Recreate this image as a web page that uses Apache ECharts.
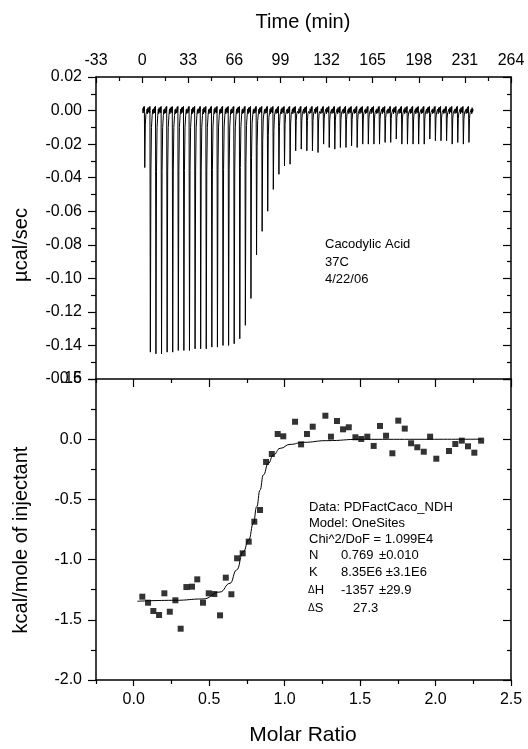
<!DOCTYPE html>
<html>
<head>
<meta charset="utf-8">
<script src="https://cdn.jsdelivr.net/npm/echarts@6/dist/echarts.min.js"></script>
<style>
  html, body { margin: 0; padding: 0; background: #fff; }
  #chart { width: 528px; height: 749px; }
</style>
</head>
<body>
<div id="chart"></div>
<script>
// ---- Raw thermogram (upper panel) ----
const injectionTimes = [
  1.6, 5.6, 9.6, 13.6, 17.6, 21.6, 25.6, 29.6, 33.6, 37.6,
  41.6, 45.6, 49.6, 53.6, 57.6, 61.6, 65.6, 69.6, 73.6, 77.6,
  81.6, 85.6, 89.6, 93.6, 97.6, 101.6, 105.6, 109.6, 113.6, 117.6,
  121.6, 125.6, 129.6, 133.6, 137.6, 141.6, 145.6, 149.6, 153.6, 157.6,
  161.6, 165.6, 169.6, 173.6, 177.6, 181.6, 185.6, 189.6, 193.6, 197.6,
  201.6, 205.6, 209.6, 213.6, 217.6, 221.6, 225.6, 229.6, 233.6
];
const peakHeights = [
  -0.034, -0.144, -0.145, -0.145, -0.144, -0.144, -0.143, -0.143, -0.143, -0.142,
  -0.142, -0.142, -0.141, -0.141, -0.140, -0.140, -0.139, -0.136, -0.128, -0.112,
  -0.086, -0.072, -0.060, -0.047, -0.038, -0.033, -0.032, -0.024, -0.023, -0.024,
  -0.024, -0.025, -0.020, -0.022, -0.023, -0.022, -0.022, -0.021, -0.022, -0.020,
  -0.020, -0.020, -0.020, -0.019, -0.019, -0.017, -0.020, -0.020, -0.020, -0.020,
  -0.020, -0.017, -0.018, -0.018, -0.018, -0.020, -0.019, -0.020, -0.019
];
const traceStart = 0.4;
const traceEnd = 237;
// small baseline wobble of the power signal, repeated between injections
const baselineNoise = [0.0013, -0.0015, 0.0022, -0.0005, 0.0009, -0.0019, 0.0017,
                       -0.0010, 0.0004, 0.0021, -0.0014, 0.0006, -0.0018, 0.0011];

// ---- Integrated heats (lower panel) ----
const molarRatio = [
  0.057, 0.095, 0.130, 0.168, 0.203, 0.239, 0.276, 0.311, 0.349, 0.386,
  0.421, 0.459, 0.497, 0.534, 0.572, 0.610, 0.647, 0.685, 0.722, 0.762,
  0.799, 0.837, 0.877, 0.915, 0.954, 0.991, 1.069, 1.109, 1.148, 1.186,
  1.270, 1.307, 1.347, 1.387, 1.425, 1.469, 1.508, 1.548, 1.590, 1.632,
  1.672, 1.714, 1.753, 1.796, 1.838, 1.879, 1.922, 1.964, 2.005, 2.089,
  2.131, 2.174, 2.215, 2.257, 2.302
];
const heatPerMole = [
  -1.308, -1.358, -1.427, -1.460, -1.280, -1.433, -1.338, -1.574, -1.228, -1.225,
  -1.164, -1.358, -1.280, -1.286, -1.463, -1.150, -1.288, -0.989, -0.948, -0.851,
  -0.685, -0.588, -0.189, -0.123, 0.043, 0.024, 0.145, -0.043, 0.043, 0.104,
  0.195, 0.021, 0.151, 0.082, 0.099, 0.016, 0.002, 0.021, -0.056, 0.110,
  0.029, -0.117, 0.154, 0.088, -0.034, -0.067, -0.104, 0.021, -0.162, -0.098,
  -0.040, -0.012, -0.059, -0.112, -0.012
];
// one-site fit curve
const fitRatio = [0.024, 0.276, 0.459, 0.572, 0.638, 0.682, 0.726, 0.762, 0.793, 0.815,
                  0.837, 0.859, 0.892, 0.925, 0.970, 1.036, 1.124, 1.279, 1.500, 2.302];
const fitHeat  = [-1.346, -1.338, -1.327, -1.269, -1.197, -1.086, -0.934, -0.837, -0.699, -0.561,
                  -0.422, -0.297, -0.200, -0.131, -0.076, -0.043, -0.026, -0.012, -0.001, 0.000];

// ---- Axis ranges ----
const timeAxis = { min: -33, max: 264, step: 33 };
const powerAxis = { min: -0.16, max: 0.02, step: 0.02 };
const ratioAxis = { min: -0.25, max: 2.5 };
const ratioMajor = [0, 0.5, 1.0, 1.5, 2.0, 2.5];
const ratioMinor = [-0.25, 0.25, 0.75, 1.25, 1.75, 2.25];
const heatAxis = { min: -2.0, max: 0.5, step: 0.5 };

// build the thermogram polyline from the injection list
const trace = [];
let k = 0;
const nextNoise = () => baselineNoise[(k++) % baselineNoise.length];
for (let s = traceStart; s < injectionTimes[0] - 0.1; s += 0.3) trace.push([s, nextNoise()]);
injectionTimes.forEach((t, i) => {
  const d = peakHeights[i];
  const next = i + 1 < injectionTimes.length ? injectionTimes[i + 1] : traceEnd;
  trace.push([t, 0.0025]);
  trace.push([t + 0.3, d]);
  trace.push([t + 0.7, d * 0.25]);
  trace.push([t + 1.1, d * 0.07]);
  trace.push([t + 1.6, d * 0.02]);
  for (let s = t + 2.0; s < next - 0.1; s += 0.3) trace.push([s, nextNoise()]);
});
trace.push([traceEnd, 0.0008]);

const heatPoints = molarRatio.map((x, i) => [x, heatPerMole[i]]);
const fitPoints = fitRatio.map((x, i) => [x, fitHeat[i]]);

const FONT = '"Liberation Sans", Arial, sans-serif';
const AX = { onZero: false, lineStyle: { color: '#000', width: 1.5 } };
const NOLINE = { show: false, onZero: false };
const TICK = (len, inside) => ({ show: true, inside: inside, length: len, lineStyle: { color: '#000', width: 1.2 } });
const MINOR = (len) => ({ show: true, splitNumber: 2, length: len, lineStyle: { color: '#000', width: 1.2 } });
const fmt = (d) => (v) => (Math.abs(v) < 1e-9 ? 0 : v).toFixed(d);
const labelStyle = { color: '#000', fontSize: 16, fontFamily: FONT };

const chart = echarts.init(document.getElementById('chart'), null, { renderer: 'canvas' });

const gridTop = { left: 96, top: 77, width: 415, height: 302 };
const gridBot = { left: 96, top: 379, width: 415, height: 301 };

const ratioBase = { type: 'value', gridIndex: 1, min: ratioAxis.min, max: ratioAxis.max, splitLine: { show: false } };
const powerBase = { type: 'value', gridIndex: 0, min: powerAxis.min, max: powerAxis.max, interval: powerAxis.step, splitLine: { show: false } };
const heatBase = { type: 'value', gridIndex: 1, min: heatAxis.min, max: heatAxis.max, interval: heatAxis.step, splitLine: { show: false } };

chart.setOption({
  animation: false,
  backgroundColor: '#fff',
  grid: [gridTop, gridBot],
  xAxis: [
    { type: 'value', gridIndex: 0, position: 'top', min: timeAxis.min, max: timeAxis.max, interval: timeAxis.step,
      axisLine: AX, axisTick: TICK(6, true), minorTick: MINOR(4),
      axisLabel: Object.assign({ margin: 8, showMinLabel: true, showMaxLabel: true }, labelStyle),
      splitLine: { show: false } },
    Object.assign({}, ratioBase, { position: 'bottom', axisLine: AX,
      axisTick: Object.assign(TICK(6, false), { customValues: ratioMajor }),
      axisLabel: Object.assign({ margin: 12, customValues: ratioMajor, formatter: fmt(1) }, labelStyle) }),
    Object.assign({}, ratioBase, { position: 'bottom', axisLine: NOLINE,
      axisTick: Object.assign(TICK(4, false), { customValues: ratioMinor }), axisLabel: { show: false } }),
    Object.assign({}, ratioBase, { position: 'top', axisLine: AX,
      axisTick: Object.assign(TICK(8, true), { customValues: ratioMajor }), axisLabel: { show: false } }),
    Object.assign({}, ratioBase, { position: 'top', axisLine: NOLINE,
      axisTick: Object.assign(TICK(4, true), { customValues: ratioMinor }), axisLabel: { show: false } })
  ],
  yAxis: [
    Object.assign({}, powerBase, { position: 'left', axisLine: AX, axisTick: TICK(8, false), minorTick: MINOR(5),
      axisLabel: Object.assign({ margin: 14, formatter: fmt(2), showMinLabel: true, showMaxLabel: true }, labelStyle) }),
    Object.assign({}, powerBase, { position: 'right', axisLine: AX, axisTick: TICK(8, true), minorTick: MINOR(4),
      axisLabel: { show: false } }),
    Object.assign({}, heatBase, { position: 'left', axisLine: AX, axisTick: TICK(8, false), minorTick: MINOR(5),
      axisLabel: Object.assign({ margin: 14, formatter: fmt(1), showMinLabel: true, showMaxLabel: true }, labelStyle) }),
    Object.assign({}, heatBase, { position: 'right', axisLine: AX, axisTick: TICK(8, true), minorTick: MINOR(4),
      axisLabel: { show: false } })
  ],
  series: [
    { name: 'Power', type: 'line', xAxisIndex: 0, yAxisIndex: 0, data: trace, showSymbol: false,
      sampling: null, lineStyle: { color: '#000', width: 1 }, silent: true },
    { name: 'Fit', type: 'line', xAxisIndex: 1, yAxisIndex: 2, data: fitPoints, showSymbol: false,
      smooth: 0.5, smoothMonotone: 'x', lineStyle: { color: '#000', width: 1 }, silent: true },
    { name: 'Heats', type: 'scatter', xAxisIndex: 1, yAxisIndex: 2, data: heatPoints, symbol: 'rect',
      symbolSize: 6, itemStyle: { color: '#000' }, silent: true }
  ],
  graphic: [
    { type: 'text', x: 303, y: 22, style: { text: 'Time (min)', font: '20px ' + FONT, fill: '#000', align: 'center', verticalAlign: 'middle' } },
    { type: 'text', x: 303, y: 735, style: { text: 'Molar Ratio', font: '21px ' + FONT, fill: '#000', align: 'center', verticalAlign: 'middle' } },
    { type: 'text', x: 21, y: 245, rotation: Math.PI / 2, style: { text: 'µcal/sec', font: '20px ' + FONT, fill: '#000', align: 'center', verticalAlign: 'middle' } },
    { type: 'text', x: 21, y: 540, rotation: Math.PI / 2, style: { text: 'kcal/mole of injectant', font: '20px ' + FONT, fill: '#000', align: 'center', verticalAlign: 'middle' } },

    { type: 'text', x: 325, y: 244, style: { text: 'Cacodylic Acid', font: '13px ' + FONT, fill: '#000', verticalAlign: 'middle' } },
    { type: 'text', x: 325, y: 262, style: { text: '37C', font: '13px ' + FONT, fill: '#000', verticalAlign: 'middle' } },
    { type: 'text', x: 325, y: 279, style: { text: '4/22/06', font: '13px ' + FONT, fill: '#000', verticalAlign: 'middle' } },

    { type: 'text', x: 309, y: 507, style: { text: 'Data: PDFactCaco_NDH', font: '13px ' + FONT, fill: '#000', verticalAlign: 'middle' } },
    { type: 'text', x: 309, y: 523, style: { text: 'Model: OneSites', font: '13px ' + FONT, fill: '#000', verticalAlign: 'middle' } },
    { type: 'text', x: 309, y: 539, style: { text: 'Chi^2/DoF = 1.099E4', font: '13px ' + FONT, fill: '#000', verticalAlign: 'middle' } },
    { type: 'text', x: 309, y: 555, style: { text: 'N', font: '13px ' + FONT, fill: '#000', verticalAlign: 'middle' } },
    { type: 'text', x: 341, y: 555, style: { text: '0.769', font: '13px ' + FONT, fill: '#000', verticalAlign: 'middle' } },
    { type: 'text', x: 379, y: 555, style: { text: '±0.010', font: '13px ' + FONT, fill: '#000', verticalAlign: 'middle' } },
    { type: 'text', x: 309, y: 572, style: { text: 'K', font: '13px ' + FONT, fill: '#000', verticalAlign: 'middle' } },
    { type: 'text', x: 341, y: 572, style: { text: '8.35E6 ±3.1E6', font: '13px ' + FONT, fill: '#000', verticalAlign: 'middle' } },
    { type: 'text', x: 308, y: 590, style: { text: '{d|Δ}H', font: '13px ' + FONT, fill: '#000', verticalAlign: 'middle', rich: { d: { fontSize: 10, fontFamily: FONT } } } },
    { type: 'text', x: 341, y: 590, style: { text: '-1357', font: '13px ' + FONT, fill: '#000', verticalAlign: 'middle' } },
    { type: 'text', x: 379, y: 590, style: { text: '±29.9', font: '13px ' + FONT, fill: '#000', verticalAlign: 'middle' } },
    { type: 'text', x: 308, y: 608, style: { text: '{d|Δ}S', font: '13px ' + FONT, fill: '#000', verticalAlign: 'middle', rich: { d: { fontSize: 10, fontFamily: FONT } } } },
    { type: 'text', x: 353, y: 608, style: { text: '27.3', font: '13px ' + FONT, fill: '#000', verticalAlign: 'middle' } }
  ]
});
</script>
</body>
</html>
